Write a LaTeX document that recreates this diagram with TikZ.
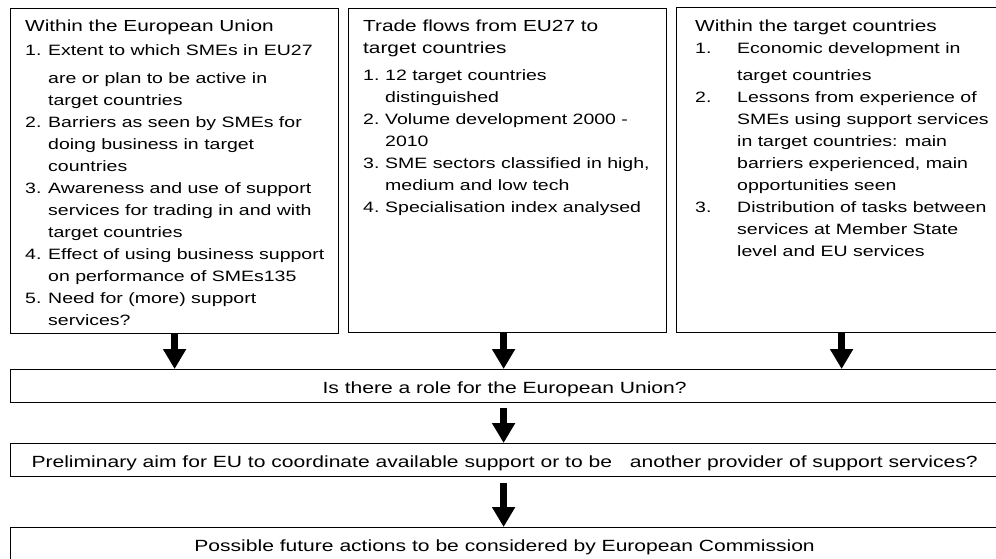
\documentclass[tikz,border=0pt]{standalone}
\usepackage{fontspec}
\setmainfont[FakeStretch=1.3]{Liberation Sans}
\usetikzlibrary{arrows.meta,positioning,calc}

\newcommand{\listhead}[1]{{\fontsize{16}{22}\selectfont #1}}
\newcommand{\listnum}[2][23pt]{\makebox[#1][l]{#2}}
\newcommand{\listcont}[1][23pt]{\hspace*{#1}}

\begin{document}
\begin{tikzpicture}[
    x=1pt, y=-1pt,
    panel/.style={draw, line width=1.2pt, anchor=north west, inner sep=0pt},
    bar/.style={draw, line width=1.2pt, anchor=north west, inner sep=0pt,
      minimum width=988pt, minimum height=33pt, text height=15pt, text depth=0pt,
      font=\fontsize{16.2}{18}\selectfont},
    listtext/.style={anchor=north west, align=left, inner sep=0pt,
      font=\fontsize{15}{22}\selectfont},
    flow/.style={line width=7pt, -{Triangle[width=22pt, length=20pt]}}
  ]
  \useasboundingbox (0,0) rectangle (996,558);
  % Three analysis panels
  \node[panel, minimum width=328pt, minimum height=325pt] (eu) at (10,8) {};
  \node[panel, minimum width=318pt, minimum height=324pt] (trade) at (348,8) {};
  \node[panel, minimum width=322pt, minimum height=325pt] (target) at (676,7) {};
  % Panel texts
  \node[listtext] (eutext) at (25,20) {\listhead{Within the European Union}\\[2pt]
    \listnum{1.}Extent to which SMEs in EU27\\[6pt]
    \listcont are or plan to be active in\\
    \listcont target countries\\
    \listnum{2.}Barriers as seen by SMEs for\\
    \listcont doing business in target\\
    \listcont countries\\
    \listnum{3.}Awareness and use of support\\
    \listcont services for trading in and with\\
    \listcont target countries\\
    \listnum{4.}Effect of using business support\\
    \listcont on performance of SMEs135\\
    \listnum{5.}Need for (more) support\\
    \listcont services?};
  \node[listtext] (tradetext) at (363,20) {\listhead{Trade flows from EU27 to}\\
    \listhead{target countries}\\[5pt]
    \listnum[22pt]{1.}12 target countries\\
    \listcont[22pt]distinguished\\
    \listnum[22pt]{2.}Volume development 2000 -\\
    \listcont[22pt]2010\\
    \listnum[22pt]{3.}SME sectors classified in high,\\
    \listcont[22pt]medium and low tech\\
    \listnum[22pt]{4.}Specialisation index analysed};
  \node[listtext] (targettext) at (695,20) {\listhead{Within the target countries}\\
    \listnum[42pt]{1.}Economic development in\\[5pt]
    \listcont[42pt]target countries\\
    \listnum[42pt]{2.}Lessons from experience of\\
    \listcont[42pt]SMEs using support services\\
    \listcont[42pt]in target countries: main\\
    \listcont[42pt]barriers experienced, main\\
    \listcont[42pt]opportunities seen\\
    \listnum[42pt]{3.}Distribution of tasks between\\
    \listcont[42pt]services at Member State\\
    \listcont[42pt]level and EU services};
  % Question bars
  \node[bar] (role) at (10,369) {Is there a role for the European Union?};
  \node[bar] (aim) at (10,443) {Preliminary aim for EU to coordinate available support or to be\hspace{12pt} another provider of support services?};
  \node[bar] (act) at (10,527) {Possible future actions to be considered by European Commission};
  % Flow arrows
  \draw[flow] (eu.south) -- (eu.south |- role.north);
  \draw[flow] ([xshift=-4pt]trade.south) -- ([xshift=-4pt]trade.south |- role.north);
  \draw[flow] ([xshift=4pt]target.south) -- ([xshift=4pt]target.south |- role.north);
  \draw[flow, shorten <=5pt] ([xshift=-1pt]role.south) -- ([xshift=-1pt]aim.north);
  \draw[flow, shorten <=6pt] ([xshift=-1pt]aim.south) -- ([xshift=-1pt]act.north);
\end{tikzpicture}
\end{document}
